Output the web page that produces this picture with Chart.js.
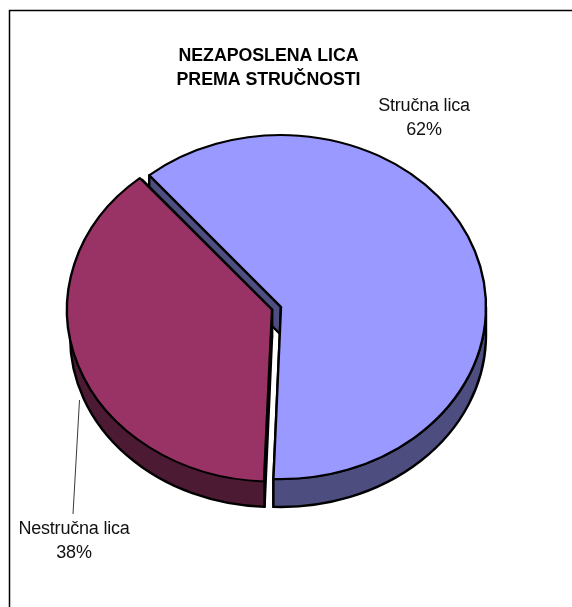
<!DOCTYPE html>
<html>
<head>
<meta charset="utf-8">
<style>html,body{margin:0;padding:0;background:#fff}canvas{display:block}</style>
<script src="https://cdn.jsdelivr.net/npm/chart.js@4/dist/chart.umd.min.js"></script>
</head>
<body>
<canvas id="c" width="572" height="607"></canvas>
<script>
const titleLines = ["NEZAPOSLENA LICA", "PREMA STRUČNOSTI"];
const categories = ["Stručna lica", "Nestručna lica"];
const values = [61.7, 38.3];
const topColors = ["#9999FF", "#993366"];
const wallColors = ["#4D4D80", "#4D1A33"];
const offsets = [0, 38];

const TILT = 0.839, DEPTH = 28, INK = "#000";
const labelBoxes = [{x: 424, y: 106}, {x: 74, y: 529}];

function geom(el, opt) {
  const mid = (el.startAngle + el.endAngle) / 2;
  const off = (opt.offset || 0) / 4;
  const cx = el.x + Math.cos(mid) * off;
  const cy = el.y + Math.sin(mid) * off * TILT;
  return {cx, cy, rx: el.outerRadius, ry: el.outerRadius * TILT, a: el.startAngle, b: el.endAngle};
}
function radial(ctx, g, ang) {
  const px = g.cx + Math.cos(ang) * g.rx, py = g.cy + Math.sin(ang) * g.ry;
  ctx.beginPath();
  ctx.moveTo(g.cx, g.cy);
  ctx.lineTo(px, py);
  ctx.lineTo(px, py + DEPTH);
  ctx.lineTo(g.cx, g.cy + DEPTH);
  ctx.closePath();
  ctx.fill(); ctx.stroke();
}
function curved(ctx, g) {
  // only the front half of the rim (0..PI in canvas angles) is visible
  let a = g.a, b = g.b;
  const TAU = Math.PI * 2;
  while (b > TAU) { a -= TAU; b -= TAU; }
  const s = Math.max(a, 0), e = Math.min(b, Math.PI);
  if (e <= s) return;
  ctx.beginPath();
  ctx.ellipse(g.cx, g.cy, g.rx, g.ry, 0, s, e, false);
  ctx.ellipse(g.cx, g.cy + DEPTH, g.rx, g.ry, 0, e, s, true);
  ctx.closePath();
  ctx.fill(); ctx.stroke();
}

const pie3d = {
  id: "pie3d",
  afterDatasetsUpdate(chart) {
    // keep the pulled-out slice the same radius as the other one
    const meta = chart.getDatasetMeta(0);
    meta.data.forEach((el) => {
      const off = (el.options.offset || 0) / 4;
      const fix = 1 - Math.sin(Math.min(Math.PI, el.circumference || 0));
      el.outerRadius -= off * fix;
    });
  },
  beforeDraw(chart) {
    const ctx = chart.ctx;
    ctx.save();
    ctx.strokeStyle = INK;
    ctx.lineWidth = 1.5;
    ctx.beginPath();
    ctx.moveTo(9.5, 607);
    ctx.lineTo(9.5, 10.5);
    ctx.lineTo(572, 10.5);
    ctx.stroke();
    ctx.restore();
  },
  beforeDatasetsDraw(chart) {
    const ctx = chart.ctx;
    const meta = chart.getDatasetMeta(0);
    ctx.save();
    ctx.strokeStyle = INK;
    ctx.lineWidth = 2.4;
    ctx.lineJoin = "round";
    meta.data.forEach((el, i) => {
      const g = geom(el, el.options);
      ctx.fillStyle = wallColors[i];
      radial(ctx, g, g.a);
      radial(ctx, g, g.b);
      curved(ctx, g);
    });
    ctx.restore();
    const cy = meta.data[0].y;
    ctx.save();
    ctx.translate(0, cy);
    ctx.scale(1, TILT);
    ctx.translate(0, -cy);
  },
  afterDatasetsDraw(chart) {
    const ctx = chart.ctx;
    ctx.restore();
    ctx.save();
    // leader line
    ctx.strokeStyle = "#222";
    ctx.lineWidth = 0.9;
    ctx.beginPath();
    ctx.moveTo(79.5, 400);
    ctx.lineTo(73, 514);
    ctx.stroke();
    // title
    ctx.fillStyle = "#000";
    ctx.textAlign = "center";
    ctx.textBaseline = "middle";
    ctx.font = "bold 17.8px 'Liberation Sans', Arial, sans-serif";
    ctx.letterSpacing = "-0.05px";
    titleLines.forEach((t, i) => ctx.fillText(t, 268.5, 56.5 + i * 24));
    // labels
    ctx.font = "18px 'Liberation Sans', Arial, sans-serif";
    ctx.letterSpacing = "-0.2px";
    ctx.fillStyle = "#111";
    const total = values.reduce((s, v) => s + v, 0);
    categories.forEach((c, i) => {
      const b = labelBoxes[i];
      ctx.fillText(c, b.x, b.y);
      ctx.fillText(Math.round(values[i] / total * 100) + "%", b.x, b.y + 24.5);
    });
    ctx.restore();
  }
};

new Chart(document.getElementById("c"), {
  type: "pie",
  data: {
    labels: categories,
    datasets: [{
      data: values,
      backgroundColor: topColors,
      borderColor: INK,
      borderWidth: 2.4,
      borderJoinStyle: "round",
      offset: offsets,
      clip: false
    }]
  },
  options: {
    responsive: false,
    animation: false,
    rotation: -40,
    radius: 205,
    layout: {padding: {left: 0, right: 10, top: 7, bottom: 0}},
    plugins: {legend: {display: false}, tooltip: {enabled: false}, title: {display: false}}
  },
  plugins: [pie3d]
});
</script>
</body>
</html>
